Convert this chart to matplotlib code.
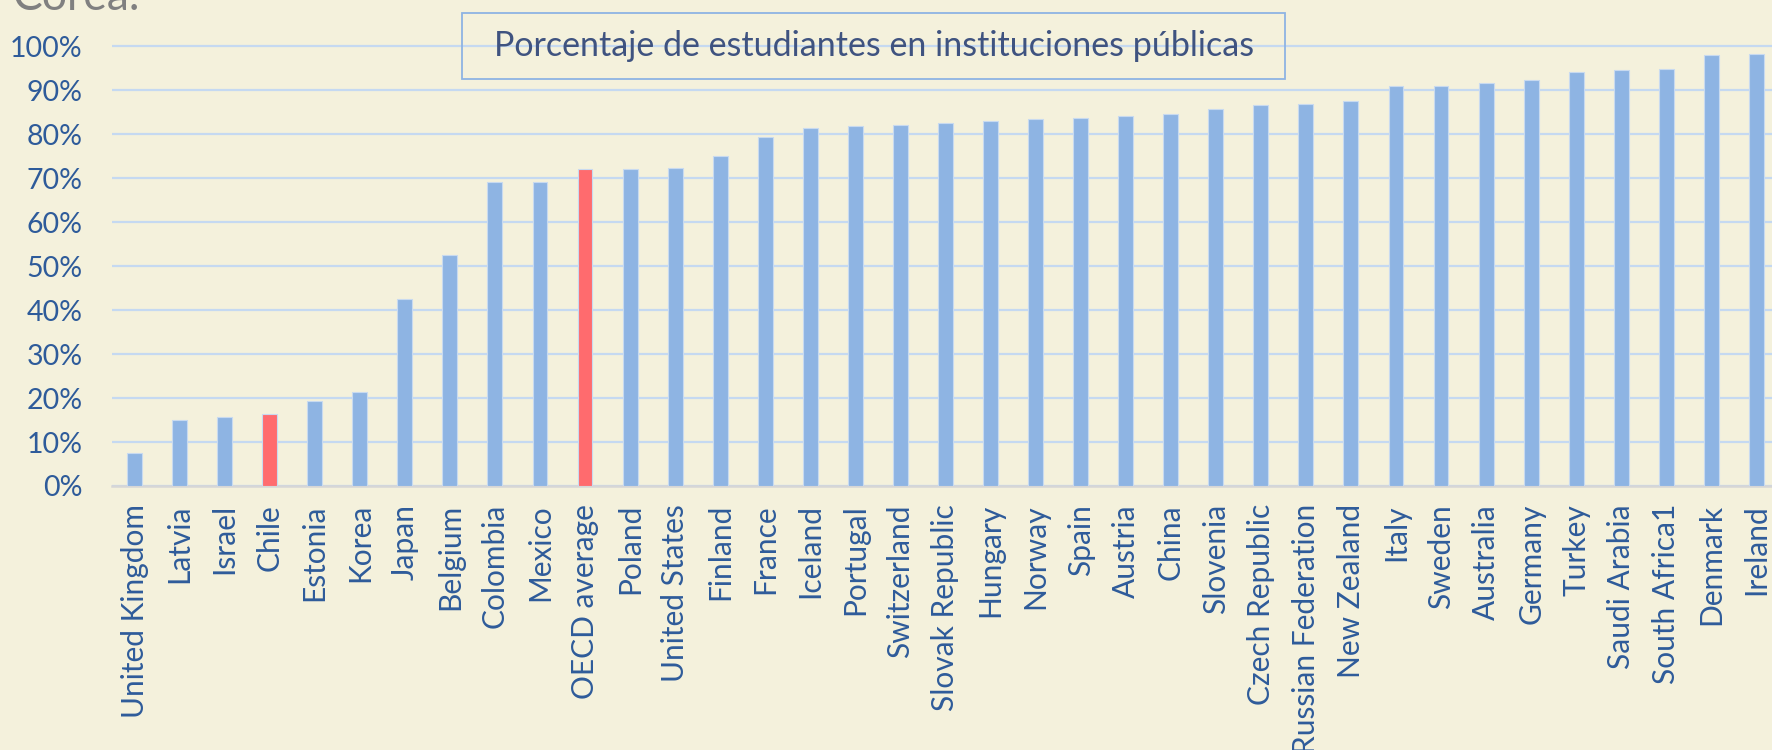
"""
Porcentaje de estudiantes en instituciones publicas (OECD countries).
Bar chart, Chile and OECD average highlighted.
"""

import matplotlib
matplotlib.use("Agg")
import matplotlib.pyplot as plt
from matplotlib.patches import Rectangle
from matplotlib.ticker import PercentFormatter

countries = ['United Kingdom', 'Latvia', 'Israel', 'Chile', 'Estonia', 'Korea',
             'Japan', 'Belgium', 'Colombia', 'Mexico', 'OECD average', 'Poland',
             'United States', 'Finland', 'France', 'Iceland', 'Portugal',
             'Switzerland', 'Slovak Republic', 'Hungary', 'Norway', 'Spain',
             'Austria', 'China', 'Slovenia', 'Czech Republic',
             'Russian Federation', 'New Zealand', 'Italy', 'Sweden', 'Australia',
             'Germany', 'Turkey', 'Saudi Arabia', 'South Africa1', 'Denmark',
             'Ireland']
public_share = [7.5, 15.1, 15.7, 16.3, 19.4, 21.4,
                42.4, 52.5, 69.0, 69.2, 72.0, 72.1,
                72.2, 75.0, 79.3, 81.4, 81.9,
                82.1, 82.4, 82.9, 83.5, 83.7,
                84.2, 84.5, 85.7, 86.6,
                86.8, 87.5, 90.9, 91.0, 91.5,
                92.2, 94.0, 94.5, 94.8, 97.9,
                98.3]
highlight = ['Chile', 'OECD average']

BG = '#F4F1DC'
BLUE = '#8EB4E3'
RED = '#FF6B6E'
LABEL = '#2E5B9A'

plt.rcParams['font.family'] = ['Lato', 'DejaVu Sans']

fig = plt.figure(figsize=(17.72, 7.5), dpi=100, facecolor=BG)
ax = fig.add_axes([0.0632, 0.352, 0.9407, 0.5925])
ax.set_facecolor(BG)

colors = [RED if c in highlight else BLUE for c in countries]
x = range(len(countries))
ax.bar(x, [v / 100 for v in public_share], width=0.33, color=colors,
       edgecolor='#C8DAF0', linewidth=0.8, zorder=3)

ax.set_xlim(-0.5, len(countries) - 0.5)
ax.set_ylim(0, 1.01)
ax.set_yticks([i / 10 for i in range(11)])
ax.yaxis.set_major_formatter(PercentFormatter(1.0, decimals=0))
ax.set_xticks(list(x))
ax.set_xticklabels(countries, rotation=90, ha='center', va='top')

ax.grid(axis='y', color='#C5D9F1', linewidth=1.6, zorder=0)
for side in ['top', 'right', 'left']:
    ax.spines[side].set_visible(False)
ax.spines['bottom'].set_color('#D6D6D6')
ax.spines['bottom'].set_linewidth(1.8)

ax.tick_params(axis='y', length=0, pad=21, labelsize=20.5, labelcolor=LABEL)
ax.tick_params(axis='x', length=0, pad=13, labelsize=21.5, labelcolor=LABEL)

# title box (transparent, the gridline shows through)
fig.patches.append(Rectangle((0.2607, 0.8947), 0.4644, 0.0873,
                             transform=fig.transFigure, facecolor='none',
                             edgecolor='#8EB4E3', linewidth=1.3))
fig.text(0.493, 0.9387, 'Porcentaje de estudiantes en instituciones públicas',
         ha='center', va='center', fontsize=24.5, color='#3F5380')

# leftover slide text, cut at the top
fig.text(0.0073, 0.9867, 'Corea.', ha='left', va='baseline', fontsize=32,
         color='#808080')

plt.savefig('out.png', dpi=100, facecolor=BG)
plt.close()
